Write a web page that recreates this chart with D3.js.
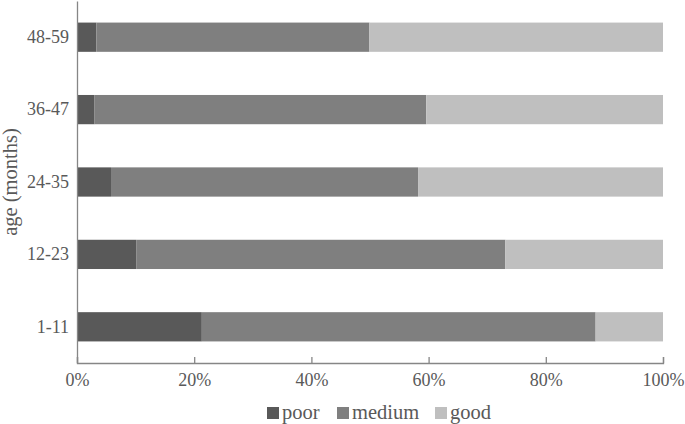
<!DOCTYPE html>
<html><head><meta charset="utf-8">
<script src="https://cdn.jsdelivr.net/npm/d3@7"></script>
<style>body{margin:0;background:#fff}svg{display:block}
svg text{font-family:"Liberation Serif","Times New Roman","DejaVu Serif",serif !important;font-size:18px;fill:#595959}
svg .legend text, svg text.ytitle{font-size:20.5px}</style>
</head><body>
<svg id="c" width="685" height="424"></svg>
<script>
const categories = ["1-11", "12-23", "24-35", "36-47", "48-59"];
const seriesNames = ["poor", "medium", "good"];
const poor =   [21.3, 10.1, 5.8, 3.0, 3.3];
const medium = [67.2, 63.0, 52.4, 56.6, 46.6];
const good =   [11.5, 26.9, 41.8, 40.4, 50.1];
const colors = ["#595959", "#7f7f7f", "#bfbfbf"];
const xTicks = [0, 20, 40, 60, 80, 100];

const svg = d3.select("#c");
const m = {left: 77, right: 22, top: 1, bottom: 61};
const W = 685, H = 424;
const x = d3.scaleLinear().domain([0, 100]).range([m.left, W - m.right]);
const y = d3.scaleBand().domain(categories.slice().reverse()).range([m.top, H - m.bottom]).paddingInner(0.596).paddingOuter(0.298);

const rows = categories.map((c, i) => ({cat: c, poor: poor[i], medium: medium[i], good: good[i]}));
const stack = d3.stack().keys(seriesNames)(rows);

svg.append("g").selectAll("g").data(stack).join("g")
  .attr("fill", (d, i) => colors[i])
  .selectAll("rect").data(d => d).join("rect")
  .attr("x", d => x(d[0]))
  .attr("width", d => x(d[1]) - x(d[0]))
  .attr("y", d => y(d.data.cat))
  .attr("height", y.bandwidth());

// x axis
const xa = svg.append("g").attr("transform", `translate(0,${H - m.bottom})`)
  .call(d3.axisBottom(x).tickValues(xTicks).tickFormat(d => d + "%").tickSize(-6).tickPadding(10));
xa.select(".domain").attr("stroke", "#868686").attr("stroke-width", 1.3);
xa.selectAll(".tick line").attr("stroke", "#868686").attr("stroke-width", 1.3);

// y axis
const ya = svg.append("g").attr("transform", `translate(${m.left},0)`)
  .call(d3.axisLeft(y).tickSize(0).tickPadding(8));
ya.select(".domain").attr("stroke", "#868686").attr("stroke-width", 1.3);

// y title
svg.append("text").attr("class", "ytitle")
  .attr("transform", `translate(17,${(m.top + H - m.bottom) / 2}) rotate(-90)`)
  .attr("text-anchor", "middle")
  .text("age (months)");

// legend
const lg = svg.append("g").attr("class", "legend");
const legendX = [267, 337, 435];
seriesNames.forEach((s, i) => {
  lg.append("rect").attr("x", legendX[i]).attr("y", 407).attr("width", 12).attr("height", 12).attr("fill", colors[i]);
  lg.append("text").attr("x", legendX[i] + 15).attr("y", 419).text(s);
});
</script>
</body></html>
